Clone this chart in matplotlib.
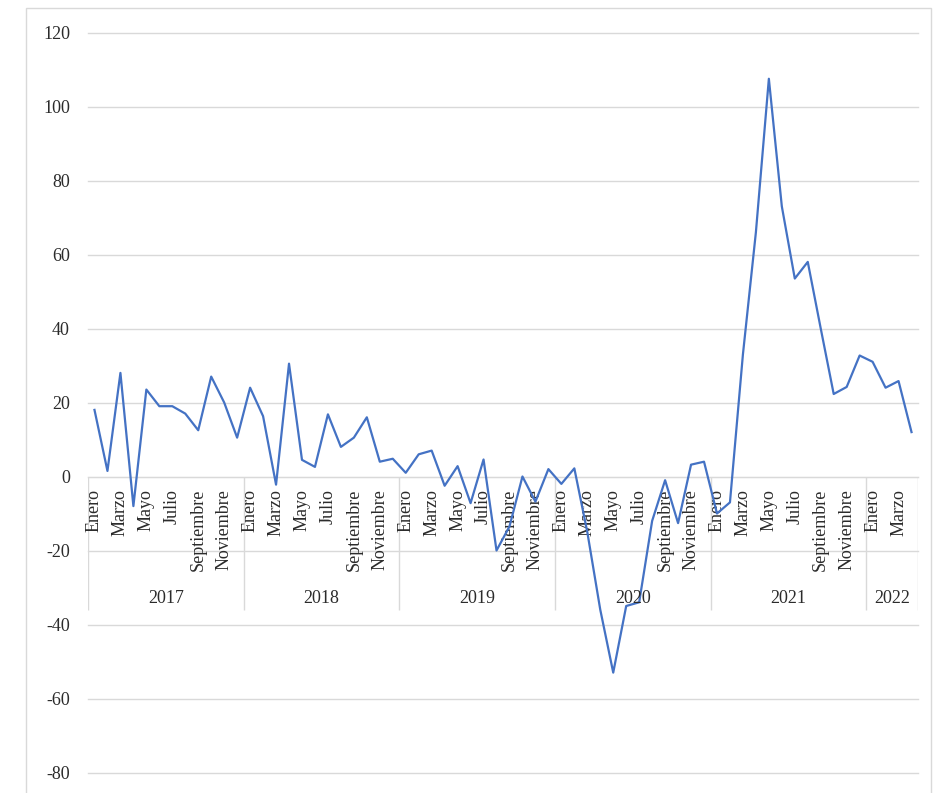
import numpy             as np
import matplotlib
matplotlib.use('Agg')
import matplotlib.pyplot as plt
from matplotlib.patches import Rectangle

plt.rcParams['font.family'] = ['Liberation Serif', 'DejaVu Serif']

# monthly variation (%) by year
var2017 = [18, 1.5, 28, -8, 23.5, 19, 19, 17, 12.5, 27, 20, 10.5]
var2018 = [24, 16.3, -2.2, 30.5, 4.5, 2.6, 16.8, 8, 10.5, 16, 4, 4.8]
var2019 = [1, 6, 7, -2.5, 2.8, -7.2, 4.6, -20, -13.5, 0, -6.8, 2]
var2020 = [-2, 2.2, -15, -36, -53, -35, -34, -12, -1, -12.6, 3.2, 4]
var2021 = [-10, -7, 33, 66, 107.5, 73, 53.5, 58, 40, 22.3, 24.2, 32.7]
var2022 = [31, 24, 25.8, 12]

years  = ['2017', '2018', '2019', '2020', '2021', '2022']
months = ['Enero', 'Febrero', 'Marzo', 'Abril', 'Mayo', 'Junio', 'Julio',
          'Agosto', 'Septiembre', 'Octubre', 'Noviembre', 'Diciembre']
yTicks = [-80, -60, -40, -20, 0, 20, 40, 60, 80, 100, 120]

series = [var2017, var2018, var2019, var2020, var2021, var2022]
values = np.concatenate(series)
x      = np.arange(len(values))

txtColor  = '#2b2b2b'
gridColor = '#d9d9d9'

fig = plt.figure(figsize=(9.39, 7.93), dpi=100)
ax  = fig.add_axes([88/939, 1 - 772.5/793, 830/939, 740/793])

# outer chart frame
fig.add_artist(Rectangle((26/939, -0.02), 905/939, 1.02 - 8/793,
                         transform=fig.transFigure, fill=False,
                         edgecolor=gridColor, lw=1))

for v in yTicks:
    ax.axhline(v, color=gridColor, lw=1, zorder=0, clip_on=False)

ax.plot(x, values, color='#4472C4', lw=1.6, zorder=3)

ax.set_xlim(-0.5, len(values) - 0.5)
ax.set_ylim(-80, 120)
ax.set_yticks(yTicks)
ax.set_yticklabels([str(v) for v in yTicks])

for s in ['top', 'right', 'left']:
    ax.spines[s].set_visible(False)
ax.spines['bottom'].set_position(('data', 0))
ax.spines['bottom'].set_color(gridColor)

# month labels (every other month) hang below the zero line
pos, labs = [], []
start = 0
for vals in series:
    for m in range(0, len(vals), 2):
        pos.append(start + m)
        labs.append(months[m])
    start += len(vals)
ax.set_xticks(pos)
ax.set_xticklabels(labs, rotation=90, va='top', ha='center')

ax.tick_params(axis='x', length=0, pad=9, labelsize=13, labelcolor=txtColor)
ax.tick_params(axis='y', length=0, pad=13, labelsize=13, labelcolor=txtColor)

# year groups with separators
bounds = np.concatenate([[-0.5], np.cumsum([len(v) for v in series]) - 0.5])
ax.vlines(bounds, -36, 0, color=gridColor, lw=1, zorder=1)
for i, yr in enumerate(years):
    ax.text((bounds[i] + bounds[i+1]) / 2, -33, yr, ha='center', va='center',
            fontsize=13, color=txtColor)

fig.savefig('out.png', dpi=100)
plt.close('all')
